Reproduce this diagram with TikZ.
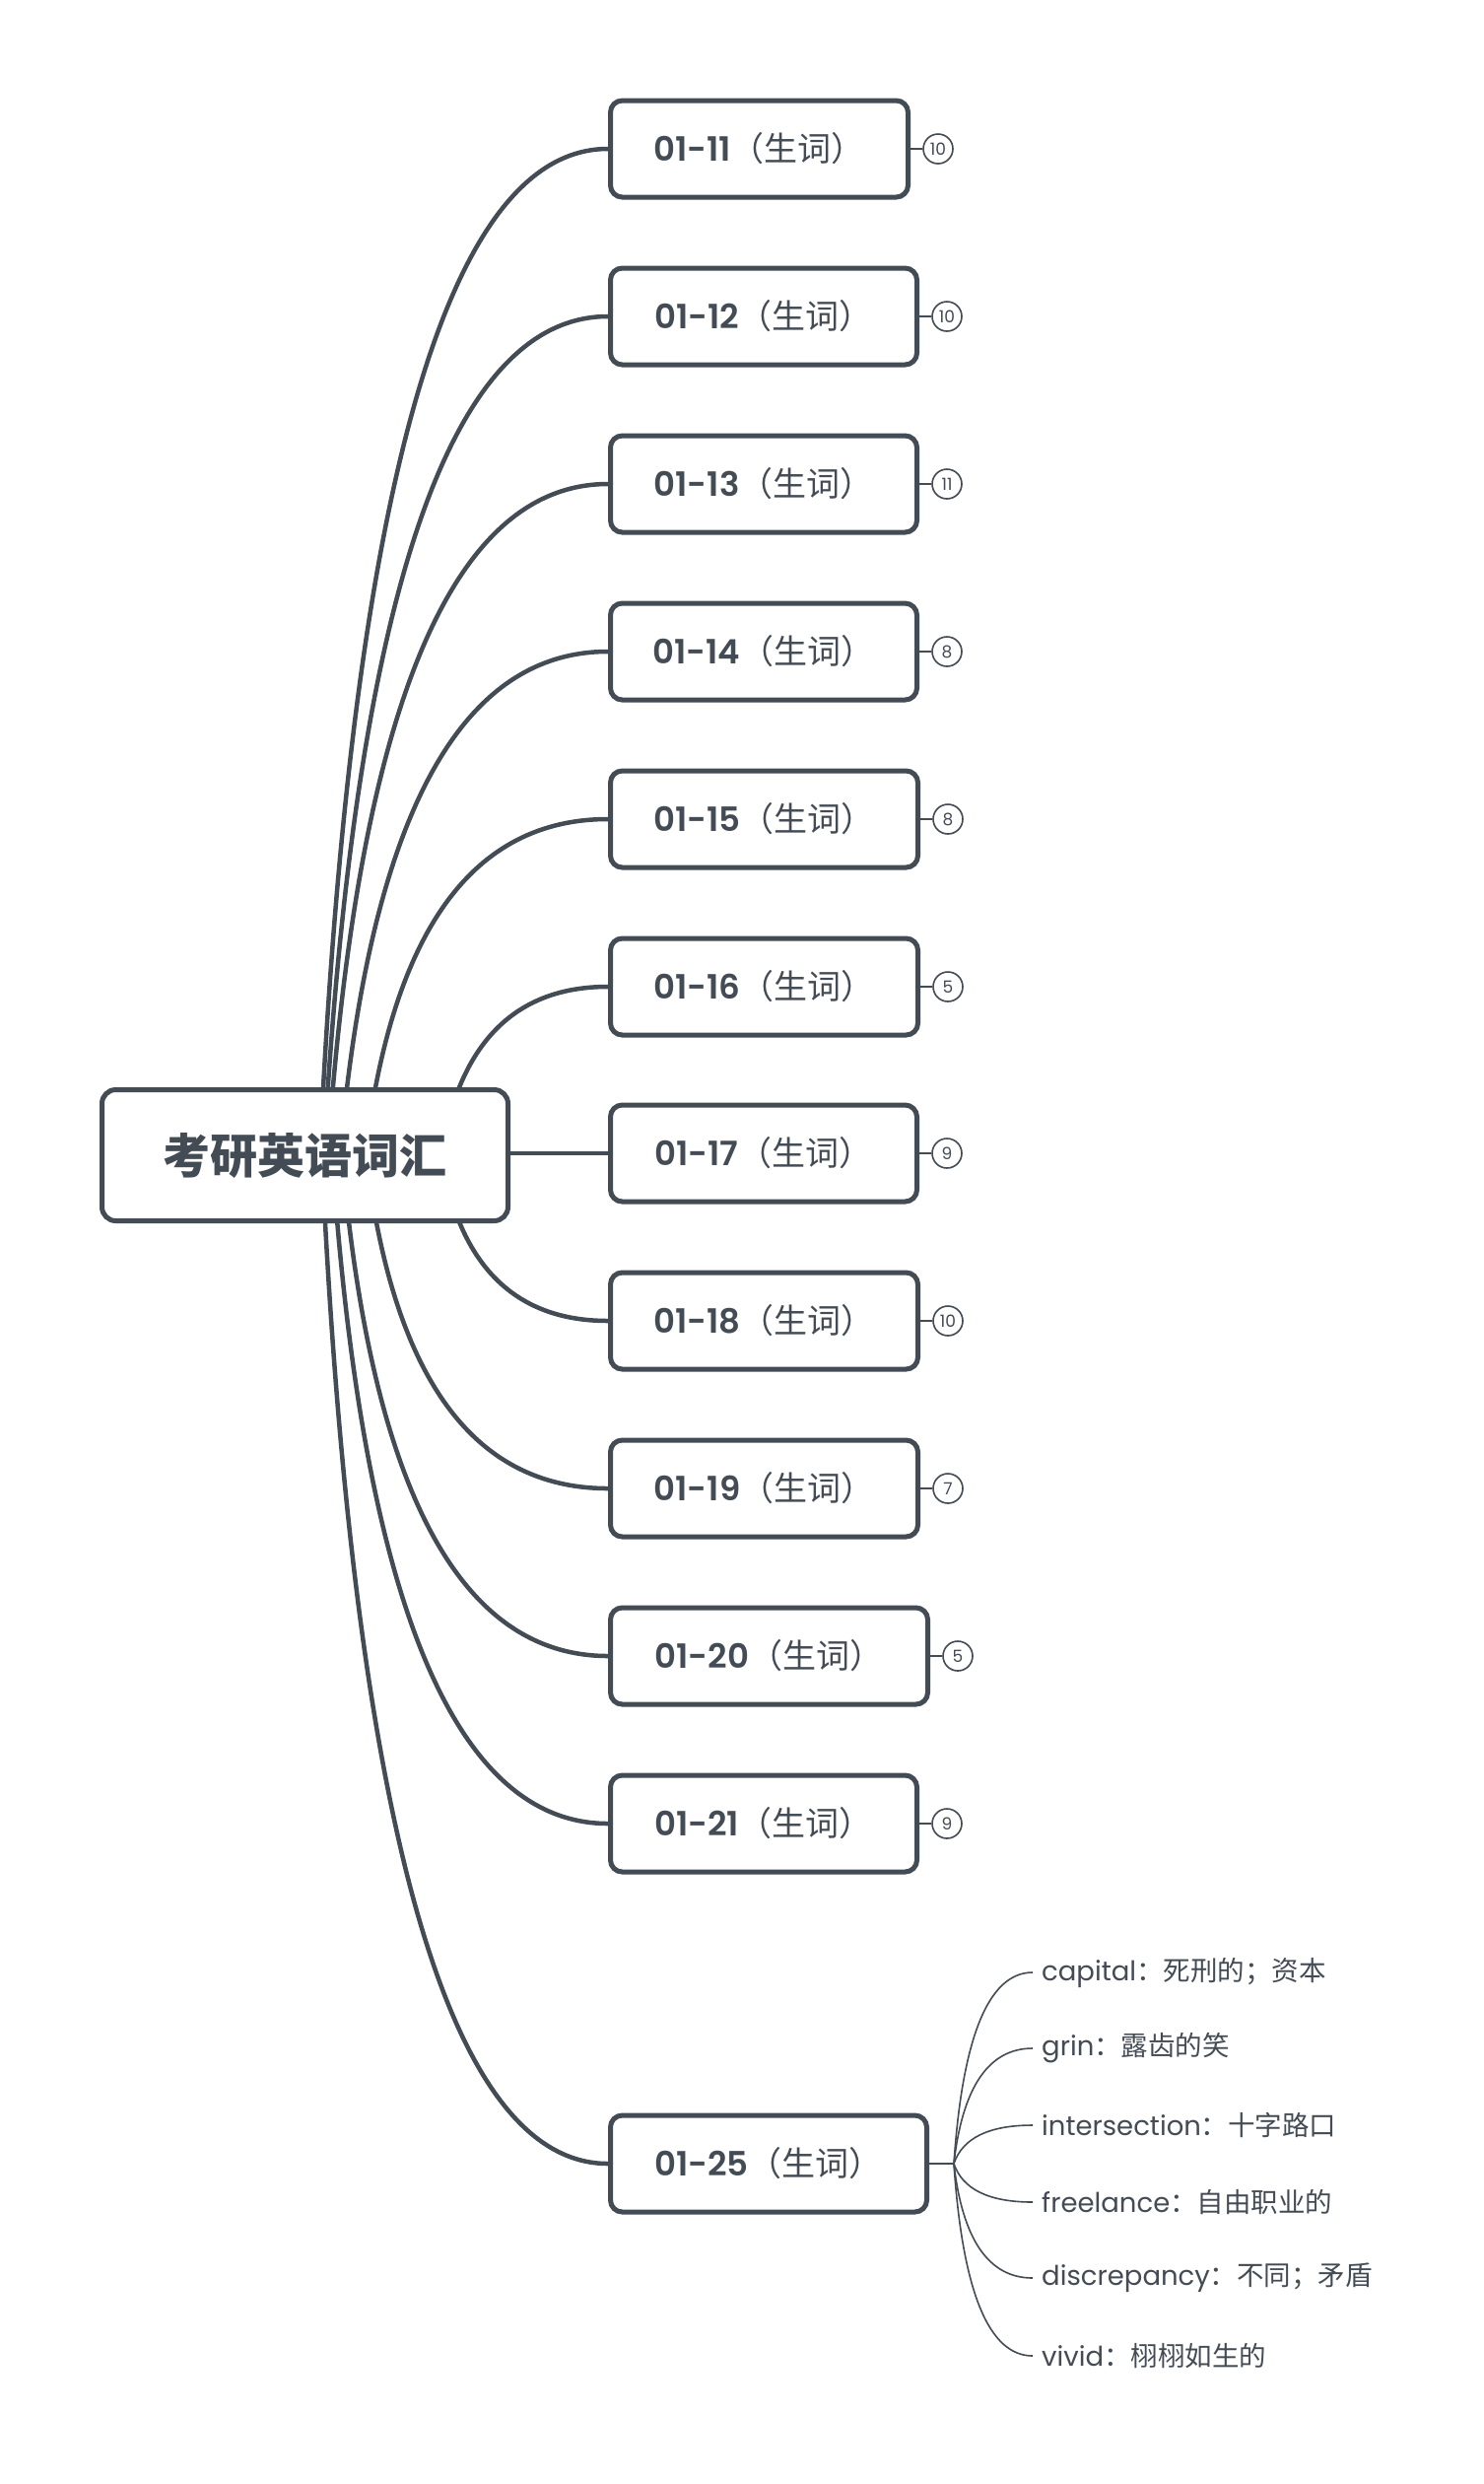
\documentclass[tikz,border=0pt]{standalone}
\usepackage{fontspec}
\setmainfont{Poppins}
\newfontfamily\lat{Poppins}[BoldFont={Poppins SemiBold}]
\newfontfamily\cjk{Noto Sans CJK SC}
\usetikzlibrary{calc}
\definecolor{ink}{HTML}{434B55}
\pgfdeclarelayer{background}
\pgfsetlayers{background,main}

\newcommand\fsz[1]{\fontsize{#1}{#1}\selectfont}
% topic caption: bold date + regular CJK suffix
\newcommand\tl[1]{{\lat\bfseries\fsz{34}#1}{\cjk\fsz{34}（生词）}}
% vocabulary entry: Latin word + CJK gloss
\newcommand\voc[2]{{\lat\fsz{27.5}#1}{\cjk\fsz{27.5}：#2}}
% smooth branch: leaves the start steeply, arrives horizontally
\newcommand\curveto[3]{%
  \draw[#3] let \p1=(#1), \p2=(#2) in (\p1)
    .. controls ({\x1+0.11*(\x2-\x1)},{\y1+0.6667*(\y2-\y1)})
           and ({\x1+0.4433*(\x2-\x1)},\y2) .. (\p2);}
\newcommand\rootlink[2]{%
  \coordinate (s#1) at ($(root.center)+(#2,0)$);
  \curveto{s#1}{t#1.west}{trunk}}

\begin{document}
\begin{tikzpicture}[x=1pt,y=-1pt,
  rootbox/.style={draw=ink, fill=white, line width=5pt, rounded corners=14pt,
    minimum width=412pt, minimum height=133pt, inner sep=0pt, text=ink,
    font=\cjk\bfseries\fsz{48}},
  topic/.style={draw=ink, fill=white, line width=5pt, rounded corners=12pt,
    minimum width=308pt, minimum height=98pt, inner sep=0pt, anchor=west, text=ink},
  badge/.style={circle, draw=ink, fill=white, line width=1.6pt, minimum size=30pt,
    inner sep=0pt, text=ink, font=\lat\fsz{17}},
  leaf/.style={anchor=west, inner xsep=9pt, inner ysep=0pt, text=ink},
  trunk/.style={draw=ink, line width=4.5pt},
  twig/.style={draw=ink, line width=1.6pt},
]
\useasboundingbox (0,0) rectangle (1506,2520);

% central topic
\node[rootbox] (root) at (309.5,1172) {考研英语词汇};

% main topics
\node[topic, minimum width=302pt] (t11) at (617,151)  {\tl{01-11}};
\node[topic, minimum width=311pt] (t12) at (617,321)  {\tl{01-12}};
\node[topic, minimum width=311pt] (t13) at (617,491)  {\tl{01-13}};
\node[topic, minimum width=311pt] (t14) at (617,661)  {\tl{01-14}};
\node[topic, minimum width=312pt] (t15) at (617,831)  {\tl{01-15}};
\node[topic, minimum width=312pt] (t16) at (617,1001) {\tl{01-16}};
\node[topic, minimum width=311pt] (t17) at (617,1170) {\tl{01-17}};
\node[topic, minimum width=312pt] (t18) at (617,1340) {\tl{01-18}};
\node[topic, minimum width=312pt] (t19) at (617,1510) {\tl{01-19}};
\node[topic, minimum width=322pt] (t20) at (617,1680) {\tl{01-20}};
\node[topic, minimum width=311pt] (t21) at (617,1850) {\tl{01-21}};
\node[topic, minimum width=321pt] (t25) at (617,2195) {\tl{01-25}};

% collapsed-children counters
\foreach \t/\n in {11/10,12/10,13/11,14/8,15/8,16/5,17/9,18/10,19/7,20/5,21/9}{
  \node[badge] (b\t) at ($(t\t.east)+(28,0)$) {\n};
  \draw[twig] (t\t.east) -- (b\t.west);
}

% vocabulary of 01-25
\node[leaf] (l1) at (1048,2001) {\voc{capital}{死刑的；资本}};
\node[leaf] (l2) at (1048,2078) {\voc{grin}{露齿的笑}};
\node[leaf] (l3) at (1048,2156) {\voc{intersection}{十字路口}};
\node[leaf] (l4) at (1048,2234) {\voc{freelance}{自由职业的}};
\node[leaf] (l5) at (1048,2311) {\voc{discrepancy}{不同；矛盾}};
\node[leaf] (l6) at (1048,2390) {\voc{vivid}{栩栩如生的}};

\begin{pgfonlayer}{background}
  \fill[white] (0,0) rectangle (1506,2520);
  \rootlink{11}{15}
  \rootlink{12}{19}
  \rootlink{13}{23}
  \rootlink{14}{35.5}
  \rootlink{15}{61}
  \rootlink{16}{138}
  \draw[trunk] (root.east |- t17.west) -- (t17.west);
  \rootlink{18}{138}
  \rootlink{19}{62}
  \rootlink{20}{37.5}
  \rootlink{21}{27.5}
  \rootlink{25}{17}

  \coordinate (fork) at ($(t25.east)+(25,0)$);
  \draw[twig] (t25.east) -- (fork);
  \foreach \i in {1,...,6}{\curveto{fork}{l\i.west}{twig}}
\end{pgfonlayer}
\end{tikzpicture}
\end{document}
